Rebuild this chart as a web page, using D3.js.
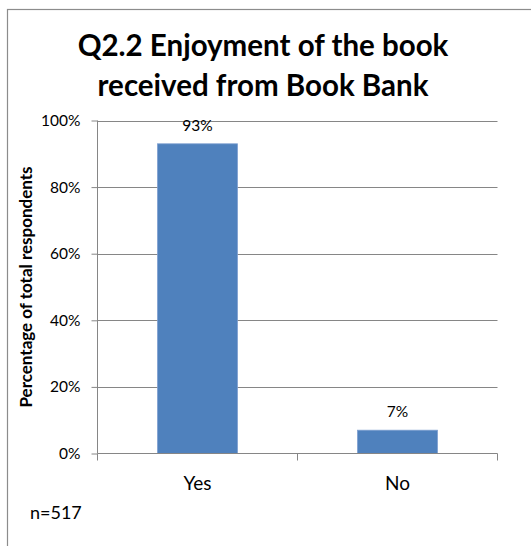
<!DOCTYPE html>
<html>
<head>
<meta charset="utf-8">
<script src="https://cdn.jsdelivr.net/npm/d3@7"></script>
<style>
  html, body { margin: 0; padding: 0; background: #fff; }
  svg { display: block; }
  text { font-family: Lato, "Open Sans", sans-serif; fill: #000; }
</style>
</head>
<body>
<svg id="chart" width="531" height="546"></svg>
<script>
// Survey answers and shares of respondents
const categories = ["Yes", "No"];
const values = [0.93, 0.07];
const yTicks = [0, 0.2, 0.4, 0.6, 0.8, 1.0];
const titleLines = ["Q2.2 Enjoyment of the book", "received from Book Bank"];
const yAxisTitle = "Percentage of total respondents";
const footnote = "n=517";

const svg = d3.select("#chart");
const plot = { left: 97.5, right: 497.5, top: 120.5, bottom: 453.5 };
const gridColor = "#868686";

// outer frame
svg.append("rect")
  .attr("x", 7.5).attr("y", 9.5)
  .attr("width", 540).attr("height", 545)
  .attr("fill", "none").attr("stroke", "#8c8c8c").attr("stroke-width", 1.2);

const x = d3.scaleBand()
  .domain(categories)
  .range([plot.left, plot.right])
  .paddingInner(0.6)
  .paddingOuter(0.3);

const y = d3.scaleLinear().domain([0, 1]).range([plot.bottom, plot.top]);
const pct = d3.format(".0%");

// horizontal gridlines
svg.append("g")
  .selectAll("line")
  .data(yTicks.filter(d => d > 0))
  .join("line")
  .attr("x1", plot.left).attr("x2", plot.right)
  .attr("y1", d => Math.round(y(d)) + 0.5).attr("y2", d => Math.round(y(d)) + 0.5)
  .attr("stroke", gridColor).attr("stroke-width", 1);

// y axis
const yAxis = d3.axisLeft(y).tickValues(yTicks).tickFormat(pct).tickSize(6).tickPadding(11);
const gy = svg.append("g").attr("transform", `translate(${plot.left},0)`).call(yAxis);
gy.select(".domain").attr("stroke", gridColor).attr("d", `M0,${plot.top}V${plot.bottom}`);
gy.selectAll(".tick line").attr("stroke", gridColor);
gy.selectAll(".tick text").style("font-size", "15.5px").style("font-family", "Lato, sans-serif").attr("fill", "#000");

// bars
svg.append("g")
  .selectAll("rect")
  .data(categories.map((c, i) => ({ c, v: values[i] })))
  .join("rect")
  .attr("x", d => x(d.c))
  .attr("y", d => y(d.v))
  .attr("width", x.bandwidth())
  .attr("height", d => y(0) - y(d.v))
  .attr("fill", "#4F81BD")
  .attr("stroke", "#7E9FD0").attr("stroke-width", 0.8);

// value labels
svg.append("g")
  .selectAll("text")
  .data(categories.map((c, i) => ({ c, v: values[i] })))
  .join("text")
  .attr("x", d => x(d.c) + x.bandwidth() / 2)
  .attr("y", d => y(d.v) - 13)
  .attr("text-anchor", "middle")
  .style("font-size", "15.5px")
  .text(d => pct(d.v));

// x axis with boundary ticks between categories
const gx = svg.append("g");
gx.append("line")
  .attr("x1", plot.left).attr("x2", plot.right)
  .attr("y1", plot.bottom).attr("y2", plot.bottom)
  .attr("stroke", gridColor);
const boundaries = [plot.left, ...categories.map(c => x(c) + x.bandwidth() / 2 + x.step() / 2)];
gx.selectAll("line.b")
  .data(boundaries)
  .join("line")
  .attr("class", "b")
  .attr("x1", d => d).attr("x2", d => d)
  .attr("y1", plot.bottom).attr("y2", plot.bottom + 7)
  .attr("stroke", gridColor);
gx.selectAll("text")
  .data(categories)
  .join("text")
  .attr("x", d => x(d) + x.bandwidth() / 2)
  .attr("y", 490)
  .attr("text-anchor", "middle")
  .style("font-size", "19px")
  .text(d => d);

// title
svg.append("g")
  .selectAll("text")
  .data(titleLines)
  .join("text")
  .attr("x", 263)
  .attr("y", (d, i) => 56 + i * 40)
  .attr("text-anchor", "middle")
  .style("font-size", "29.5px")
  .style("font-weight", "bold")
  .text(d => d);

// y axis title
svg.append("text")
  .attr("transform", `translate(32,${(plot.top + plot.bottom) / 2}) rotate(-90)`)
  .attr("text-anchor", "middle")
  .style("font-size", "17px")
  .style("font-weight", "bold")
  .text(yAxisTitle);

// sample size note
svg.append("text")
  .attr("x", 30).attr("y", 519)
  .style("font-size", "18px")
  .text(footnote);
</script>
</body>
</html>
